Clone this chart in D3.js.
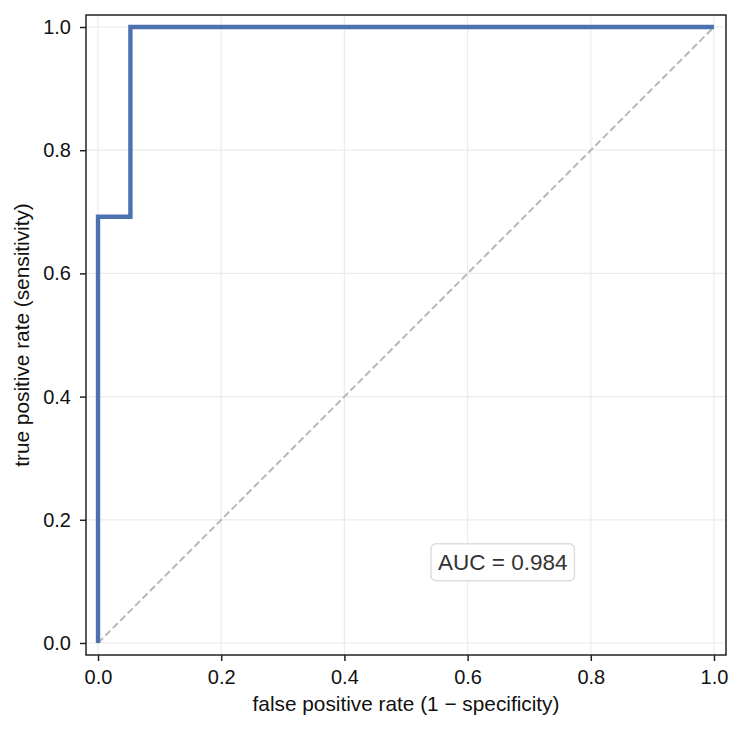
<!DOCTYPE html>
<html>
<head>
<meta charset="utf-8">
<script src="https://cdn.jsdelivr.net/npm/d3@7"></script>
<style>
  body { margin: 0; background: #fff; }
  svg { font-family: "Liberation Sans", Arial, sans-serif; }
</style>
</head>
<body>
<div id="chart"></div>
<script>
// ROC curve points (false positive rate, true positive rate)
const fpr = [0, 0, 0.0526, 0.0526, 1];
const tpr = [0, 0.692, 0.692, 1, 1];
const aucText = "AUC = 0.984";
const tickValues = [0, 0.2, 0.4, 0.6, 0.8, 1.0];

const W = 743, H = 731;
const margin = { top: 15, right: 17, bottom: 76, left: 86 };
const width = W - margin.left - margin.right,
      height = H - margin.top - margin.bottom;

const svg = d3.select("#chart").append("svg")
    .attr("width", W).attr("height", H);
const g = svg.append("g")
    .attr("transform", `translate(${margin.left},${margin.top})`);

const x = d3.scaleLinear().domain([-0.0195, 1.0195]).range([0, width]);
const y = d3.scaleLinear().domain([-0.0195, 1.0195]).range([height, 0]);

// grid
g.append("g").selectAll("line").data(tickValues).enter().append("line")
    .attr("x1", d => x(d)).attr("x2", d => x(d))
    .attr("y1", 0).attr("y2", height)
    .attr("stroke", "#ebebeb").attr("stroke-width", 1.2);
g.append("g").selectAll("line").data(tickValues).enter().append("line")
    .attr("y1", d => y(d)).attr("y2", d => y(d))
    .attr("x1", 0).attr("x2", width)
    .attr("stroke", "#ebebeb").attr("stroke-width", 1.2);

// chance diagonal
g.append("line")
    .attr("x1", x(0)).attr("y1", y(0))
    .attr("x2", x(1)).attr("y2", y(1))
    .attr("stroke", "#b8b8b8").attr("stroke-width", 2)
    .attr("stroke-dasharray", "7,3.5");

// ROC step line
const pts = fpr.map((f, i) => [f, tpr[i]]);
g.append("path")
    .datum(pts)
    .attr("fill", "none")
    .attr("stroke", "#4c72b0")
    .attr("stroke-width", 4.4)
    .attr("stroke-linejoin", "miter")
    .attr("d", d3.line().x(d => x(d[0])).y(d => y(d[1])));

// AUC box
const ann = g.append("g").attr("transform", `translate(${x(0.657)},${y(0.131)})`);
const t = ann.append("text")
    .attr("text-anchor", "middle").attr("dy", "0.35em")
    .attr("font-size", 22.5).attr("fill", "#333")
    .text(aucText);
const bb = t.node().getBBox();
ann.insert("rect", "text")
    .attr("x", bb.x - 7).attr("y", -18.5)
    .attr("width", bb.width + 14).attr("height", 37)
    .attr("rx", 5)
    .attr("fill", "#fff").attr("fill-opacity", 0.9)
    .attr("stroke", "#dddddd").attr("stroke-width", 1.5);

// axes
const fmt = d3.format(".1f");
const xAxis = g.append("g")
    .attr("transform", `translate(0,${height})`)
    .call(d3.axisBottom(x).tickValues(tickValues).tickFormat(fmt).tickSize(6).tickPadding(9));
const yAxis = g.append("g")
    .call(d3.axisLeft(y).tickValues(tickValues).tickFormat(fmt).tickSize(6).tickPadding(9));
[xAxis, yAxis].forEach(a => {
    a.select(".domain").remove();
    a.selectAll(".tick line").attr("stroke", "#222").attr("stroke-width", 1.5);
    a.selectAll(".tick text").attr("font-size", 20).attr("fill", "#111")
        .attr("font-family", "Liberation Sans, Arial, sans-serif");
});

// frame
g.append("rect")
    .attr("width", width).attr("height", height)
    .attr("fill", "none").attr("stroke", "#222").attr("stroke-width", 1.5);

// axis labels
svg.append("text")
    .attr("x", margin.left + x(0.5)).attr("y", 711)
    .attr("text-anchor", "middle").attr("font-size", 20.8).attr("fill", "#111")
    .text("false positive rate (1 \u2212 specificity)");
svg.append("text")
    .attr("transform", `translate(29,${margin.top + y(0.5)}) rotate(-90)`)
    .attr("text-anchor", "middle").attr("font-size", 20.8).attr("fill", "#111")
    .text("true positive rate (sensitivity)");
</script>
</body>
</html>
